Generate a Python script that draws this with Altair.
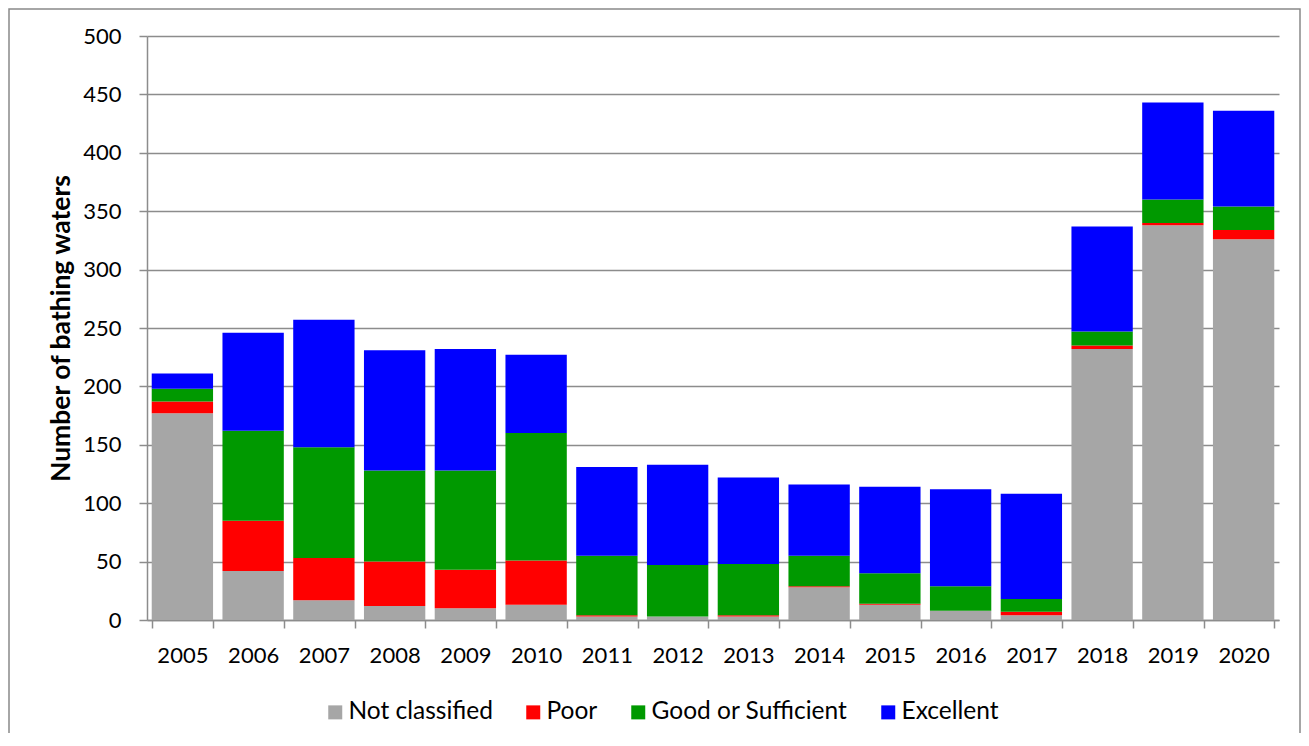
import altair as alt
import pandas as pd

years = ["2005", "2006", "2007", "2008", "2009", "2010", "2011", "2012",
         "2013", "2014", "2015", "2016", "2017", "2018", "2019", "2020"]
not_classified = [177, 42, 17, 12, 10, 13, 3, 3, 3, 28, 13, 8, 4, 232, 338, 326]
poor = [10, 43, 36, 38, 33, 38, 1, 0, 1, 1, 1, 0, 3, 3, 2, 8]
good_or_sufficient = [11, 77, 95, 78, 85, 109, 51, 44, 44, 26, 26, 21, 11, 12, 20, 20]
excellent = [13, 84, 109, 103, 104, 67, 76, 86, 74, 61, 74, 83, 90, 90, 83, 82]

categories = ["Not classified", "Poor", "Good or Sufficient", "Excellent"]
colors = ["#A6A6A6", "#FF0000", "#009900", "#0000FF"]
y_ticks = list(range(0, 501, 50))

series = [not_classified, poor, good_or_sufficient, excellent]
rows = []
for ci, (cat, vals) in enumerate(zip(categories, series)):
    for yr, v in zip(years, vals):
        rows.append({"year": yr, "category": cat, "value": v, "idx": ci})
df = pd.DataFrame(rows)

FONT = "Lato"
GRID = "#8C8C8C"

W, H = 1132, 584
PAD_L, PAD_T, PAD_R, PAD_B = 139, 28, 22, 113

bars = alt.Chart(df).mark_bar().encode(
    x=alt.X("year:O", sort=years, title=None,
            scale=alt.Scale(paddingInner=0.133, paddingOuter=0.0667),
            axis=alt.Axis(labelAngle=0, tickBand="extent", tickSize=8,
                          tickColor=GRID, tickWidth=1.5, domainColor=GRID,
                          domainWidth=1.5, labelFont=FONT, labelFontSize=22,
                          labelColor="#000000", labelPadding=17, grid=False)),
    y=alt.Y("value:Q", title="Number of bathing waters",
            scale=alt.Scale(domain=[0, 500], nice=False),
            axis=alt.Axis(values=y_ticks, tickSize=8, tickColor=GRID,
                          tickWidth=1.5, domainColor=GRID, domainWidth=1.5,
                          gridColor=GRID, gridWidth=1.5, labelFont=FONT,
                          labelFontSize=22, labelColor="#000000",
                          labelPadding=18, titleFont=FONT, titleFontSize=26.5,
                          titleFontWeight="bold", titleColor="#000000",
                          titlePadding=7)),
    color=alt.Color("category:N",
                    scale=alt.Scale(domain=categories, range=colors),
                    legend=alt.Legend(title=None, orient="none",
                                      direction="horizontal",
                                      legendX=176, legendY=664,
                                      symbolType="square", symbolSize=196,
                                      symbolStrokeWidth=0, labelFont=FONT,
                                      labelFontSize=24.5, labelColor="#000000",
                                      labelLimit=0,
                                      columnPadding=28, labelOffset=1,
                                      padding=0)),
    order=alt.Order("idx:Q", sort="ascending"),
)

frame = alt.Chart(alt.Data(values=[{"f": 1}])).mark_rect(
    fillOpacity=0, stroke="#898989", strokeWidth=1.5
).encode(
    x=alt.value(-PAD_L + 1), x2=alt.value(W + PAD_R - 1),
    y=alt.value(-PAD_T + 1), y2=alt.value(H + PAD_B + 50),
)

chart = alt.layer(bars, frame).properties(
    width=W, height=H,
    autosize=alt.AutoSizeParams(type="none"),
    padding={"left": PAD_L, "top": PAD_T, "right": PAD_R, "bottom": PAD_B},
    background="white",
).configure_view(stroke=None)

chart.save("out.html", embed_options={"renderer": "svg", "actions": False})
